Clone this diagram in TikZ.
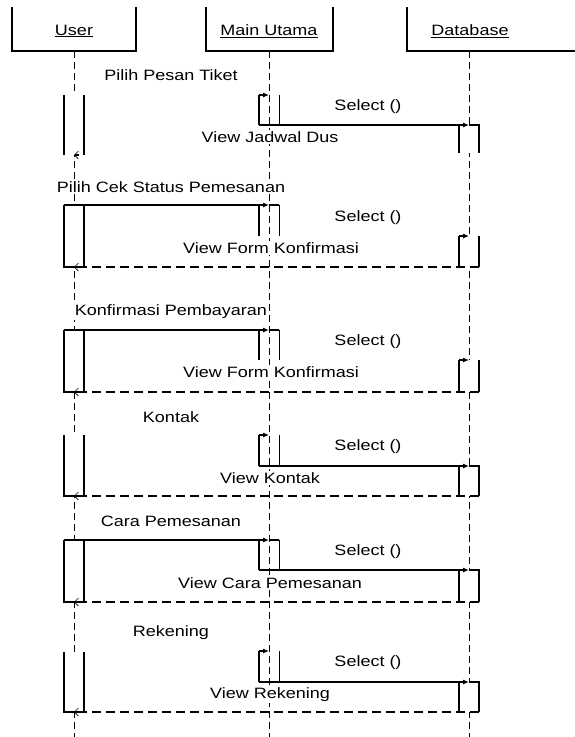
\documentclass[tikz,border=0pt]{standalone}
\usepackage{fontspec}
\setmainfont[FakeStretch=1.2]{Liberation Sans}
\usetikzlibrary{arrows.meta}

\begin{document}
\begin{tikzpicture}[x=1pt,y=-1pt,
    every node/.style={font=\fontsize{15}{17}\selectfont,inner sep=1pt},
    head/.style={minimum height=44pt,minimum width=124pt,outer sep=0pt},
    act/.style={minimum width=20pt,inner sep=0pt,outer sep=0pt,fill=white},
    mact/.style={minimum width=20pt,inner sep=0pt,outer sep=0pt},
    lifeline/.style={dash pattern=on 7pt off 4pt,line width=0.8pt},
    bar/.style={line width=1.1pt},
    thinbar/.style={line width=0.5pt},
    msg/.style={line width=1.1pt,-{Latex[length=6pt,width=5pt]}},
    ret/.style={line width=1.1pt,dash pattern=on 9pt off 5pt,-{Straight Barb[length=4pt,width=8pt,line width=0.6pt]}},
    lbl/.style={fill=white}
]
\useasboundingbox (0,0) rectangle (574,737);
\node[head] (userbox) at (74,29) {};
\node[head,minimum width=127pt] (mainbox) at (269.5,29) {};
\node[head,minimum width=180pt] (dbbox) at (497,29) {};
\draw[bar] (userbox.north west) -- (userbox.south west) -- (userbox.south east) -- (userbox.north east);
\draw[bar] (mainbox.north west) -- (mainbox.south west) -- (mainbox.south east) -- (mainbox.north east);
\draw[bar] (dbbox.north west) -- (dbbox.south west) -- (dbbox.south east);
\node (user) at (74,31) {\underline{User}};
\node (main) at (269,31) {\underline{Main Utama}};
\node (db) at (470,31) {\underline{Database}};
\coordinate (uend) at (74,737);
\coordinate (mend) at (269.5,737);
\coordinate (dend) at (469,737);
\draw[lifeline] (userbox.south) -- (uend);
\draw[lifeline] (mainbox.south) -- (mend);
\draw[lifeline] (dbbox.south -| dend) -- (dend);

\node[act,minimum height=60pt] (ua1) at (74,125) {};
\node[mact,minimum height=30pt] (ma1) at (269,110) {};
\node[act,minimum height=28pt] (da1) at (469,139) {};
\draw[bar] (ua1.north west) -- (ua1.south west);
\draw[bar] (ua1.north east) -- (ua1.south east);
\draw[bar] (ma1.north west) -- (ma1.south west);
\draw[thinbar] (ma1.north east) -- (ma1.south east);
\draw[msg] (ma1.north west) -- (ma1.north);
\draw[msg] (ma1.south west) -- (da1.north);
\draw[bar] (da1.north) -- (da1.north east) -- (da1.south east);
\draw[bar] (da1.north west) -- (da1.south west);
\draw[ret] (ua1.south) ++(5,0) -- (ua1.south);

\node[act,minimum height=62pt] (ua2) at (74,236) {};
\node[mact,minimum height=31pt] (ma2) at (269,220.5) {};
\node[act,minimum height=31pt] (da2) at (469,251.5) {};
\draw[bar] (ua2.north west) -- (ua2.south west) -- (ua2.south east) -- (ua2.north east);
\draw[msg] (ua2.north west) -- (ma2.north);
\draw[bar] (ma2.north) -- (ma2.north east);
\draw[bar] (ma2.north west) -- (ma2.south west);
\draw[thinbar] (ma2.north east) -- (ma2.south east);
\draw[msg] (da2.north west) -- (da2.north);
\draw[bar] (da2.north west) -- (da2.south west);
\draw[bar] (da2.north east) -- (da2.south east);
\draw[ret] (da2.south east) -- (ua2.south);

\node[act,minimum height=62pt] (ua3) at (74,361) {};
\node[mact,minimum height=30pt] (ma3) at (269,345) {};
\node[act,minimum height=32pt] (da3) at (469,376) {};
\draw[bar] (ua3.north west) -- (ua3.south west) -- (ua3.south east) -- (ua3.north east);
\draw[msg] (ua3.north west) -- (ma3.north);
\draw[bar] (ma3.north) -- (ma3.north east);
\draw[bar] (ma3.north west) -- (ma3.south west);
\draw[thinbar] (ma3.north east) -- (ma3.south east);
\draw[msg] (da3.north west) -- (da3.north);
\draw[bar] (da3.north west) -- (da3.south west);
\draw[bar] (da3.north east) -- (da3.south east);
\draw[ret] (da3.south east) -- (ua3.south);

\node[act,minimum height=61pt] (ua4) at (74,465.5) {};
\node[mact,minimum height=31pt] (ma4) at (269,450.5) {};
\node[act,minimum height=30pt] (da4) at (469,481) {};
\draw[bar] (ua4.north west) -- (ua4.south west) -- (ua4.south east) -- (ua4.north east);
\draw[msg] (ma4.north west) -- (ma4.north);
\draw[bar] (ma4.north west) -- (ma4.south west);
\draw[thinbar] (ma4.north east) -- (ma4.south east);
\draw[msg] (ma4.south west) -- (da4.north);
\draw[bar] (da4.north) -- (da4.north east) -- (da4.south east);
\draw[bar] (da4.north west) -- (da4.south west);
\draw[ret] (da4.south east) -- (ua4.south);

\node[act,minimum height=62pt] (ua5) at (74,571) {};
\node[mact,minimum height=30pt] (ma5) at (269,555) {};
\node[act,minimum height=32pt] (da5) at (469,586) {};
\draw[bar] (ua5.north west) -- (ua5.south west) -- (ua5.south east) -- (ua5.north east);
\draw[msg] (ua5.north west) -- (ma5.north);
\draw[bar] (ma5.north) -- (ma5.north east);
\draw[bar] (ma5.north west) -- (ma5.south west);
\draw[thinbar] (ma5.north east) -- (ma5.south east);
\draw[msg] (ma5.south west) -- (da5.north);
\draw[bar] (da5.north) -- (da5.north east) -- (da5.south east);
\draw[bar] (da5.north west) -- (da5.south west);
\draw[ret] (da5.south east) -- (ua5.south);

\node[act,minimum height=60pt] (ua6) at (74,682) {};
\node[mact,minimum height=31pt] (ma6) at (269,666.5) {};
\node[act,minimum height=30pt] (da6) at (469,697) {};
\draw[bar] (ua6.north west) -- (ua6.south west) -- (ua6.south east) -- (ua6.north east);
\draw[msg] (ma6.north west) -- (ma6.north);
\draw[bar] (ma6.north west) -- (ma6.south west);
\draw[thinbar] (ma6.north east) -- (ma6.south east);
\draw[msg] (ma6.south west) -- (da6.north);
\draw[bar] (da6.north) -- (da6.north east) -- (da6.south east);
\draw[bar] (da6.north west) -- (da6.south west);
\draw[ret] (da6.south east) -- (ua6.south);

\node[lbl] (m1) at (171,75) {Pilih Pesan Tiket};
\node[lbl] (s1) at (368,107) {Select ()};
\node[lbl] (v1) at (270,137) {View Jadwal Dus};
\node[lbl] (m2) at (171,187) {Pilih Cek Status Pemesanan};
\node[lbl] (s2) at (368,218) {Select ()};
\node[lbl] (v2) at (271,248) {View Form Konfirmasi};
\node[lbl] (m3) at (171,312) {Konfirmasi Pembayaran};
\node[lbl] (s3) at (368,342) {Select ()};
\node[lbl] (v3) at (271,372) {View Form Konfirmasi};
\node[lbl] (m4) at (171,417) {Kontak};
\node[lbl] (s4) at (368,447) {Select ()};
\node[lbl] (v4) at (270,478) {View Kontak};
\node[lbl] (m5) at (171,521) {Cara Pemesanan};
\node[lbl] (s5) at (368,552) {Select ()};
\node[lbl] (v5) at (270,583) {View Cara Pemesanan};
\node[lbl] (m6) at (171,633) {Rekening};
\node[lbl] (s6) at (368,663) {Select ()};
\node[lbl] (v6) at (270,695) {View Rekening};
\end{tikzpicture}
\end{document}
